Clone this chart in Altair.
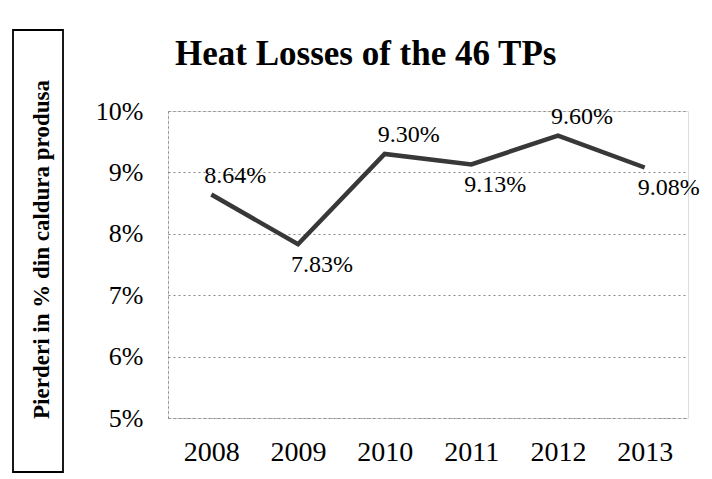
import altair as alt
import pandas as pd

years = ["2008", "2009", "2010", "2011", "2012", "2013"]
losses = [8.64, 7.83, 9.30, 9.13, 9.60, 9.08]
y_ticks = [5, 6, 7, 8, 9, 10]

title_text = "Heat Losses of the 46 TPs"
y_title = "Pierderi in % din caldura produsa"

df = pd.DataFrame({"year": years, "loss": losses})
FONT = "Liberation Serif"

base = alt.Chart(df).transform_window(idx="row_number()").transform_calculate(
    lbl="format(datum.loss, '.2f') + '%'"
)

x_enc = alt.X(
    "year:N",
    sort=years,
    scale=alt.Scale(type="point", padding=0.5),
    axis=alt.Axis(
        title=None, labelAngle=0, labelFont=FONT, labelFontSize=28,
        labelColor="black", ticks=False, labelPadding=20,
        domain=True, domainColor="#999999", domainDash=[2, 4], domainWidth=1,
        grid=False,
    ),
)
y_enc = alt.Y(
    "loss:Q",
    scale=alt.Scale(domain=[5, 10], nice=False, zero=False),
    axis=alt.Axis(
        values=y_ticks, labelExpr="datum.value + '%'", labelFont=FONT,
        labelFontSize=26, labelColor="black", labelPadding=25, ticks=False,
        domain=True, domainColor="#888888", domainDash=[2, 3], domainWidth=1,
        grid=True, gridColor="#888888", gridDash=[2, 3], gridWidth=1,
        title=y_title, titleFont=FONT, titleFontSize=23, titleFontWeight="bold",
        titleColor="black", titleAngle=-90, titleX=-127, titleY=138,
        titleAlign="center", titleBaseline="middle",
    ),
)

line = base.mark_line(color="#383838", strokeWidth=4.5).encode(x=x_enc, y=y_enc)

labels_above = base.transform_filter("datum.idx % 2 == 1").mark_text(
    font=FONT, fontSize=24, fill="black", align="center",
    baseline="middle", dx=24, dy=-19,
).encode(
    x=alt.X("year:N", sort=years),
    y="loss:Q",
    text=alt.Text("lbl:N"),
)
labels_below = base.transform_filter("datum.idx % 2 == 0").mark_text(
    font=FONT, fontSize=24, fill="black", align="center",
    baseline="middle", dx=24, dy=21,
).encode(
    x=alt.X("year:N", sort=years),
    y="loss:Q",
    text=alt.Text("lbl:N"),
)

box = alt.Chart(pd.DataFrame({"k": [0]})).mark_rect(
    fill=None, stroke="black", strokeWidth=1.8
).encode(
    x=alt.value(-155), x2=alt.value(-105), y=alt.value(-81), y2=alt.value(361)
)

chart = alt.layer(line, labels_above, labels_below, box).properties(
    width=520,
    height=307,
    autosize=alt.AutoSizeParams(type="none"),
    padding={"left": 160, "top": 103, "right": 16, "bottom": 55},
    title=alt.TitleParams(
        title_text, font=FONT, fontSize=35, fontWeight="bold", color="black",
        anchor="start", frame="group", dx=7, offset=-43,
    ),
).configure_view(stroke=None).configure(background="white", font=FONT)

chart.save("out.html", embed_options={"renderer": "svg", "actions": False})
